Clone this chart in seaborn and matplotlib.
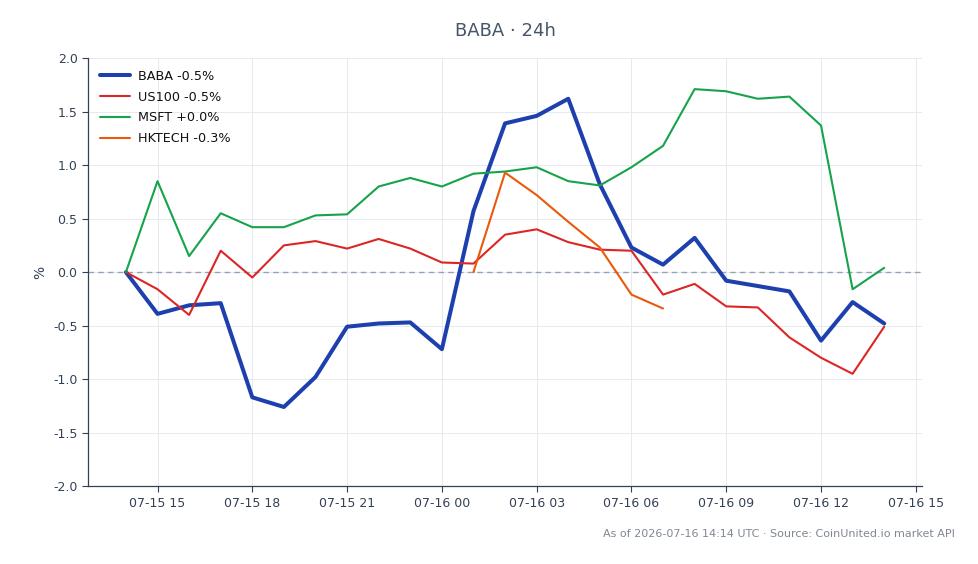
import pandas as pd
import seaborn as sns
import matplotlib.pyplot as plt
import matplotlib.dates as mdates

# hourly % change, 07-15 14:00 -> 07-16 14:00
times = pd.date_range("2026-07-15 14:00", "2026-07-16 14:00", freq="h")

baba = [0.00, -0.39, -0.31, -0.29, -1.17, -1.26, -0.98, -0.51, -0.48, -0.47, -0.72,
        0.57, 1.39, 1.46, 1.62, 0.82, 0.23, 0.07, 0.32, -0.08, -0.13, -0.18, -0.64,
        -0.28, -0.48]
us100 = [0.00, -0.16, -0.40, 0.20, -0.05, 0.25, 0.29, 0.22, 0.31, 0.22, 0.09,
         0.08, 0.35, 0.40, 0.28, 0.21, 0.20, -0.21, -0.11, -0.32, -0.33, -0.61, -0.80,
         -0.95, -0.51]
msft = [0.00, 0.85, 0.15, 0.55, 0.42, 0.42, 0.53, 0.54, 0.80, 0.88, 0.80,
        0.92, 0.94, 0.98, 0.85, 0.81, 0.98, 1.18, 1.71, 1.69, 1.62, 1.64, 1.37,
        -0.16, 0.04]
nan = float("nan")
hktech = [nan] * 11 + [0.00, 0.93, 0.72, 0.47, 0.23, -0.21, -0.34] + [nan] * 7

series = {
    "BABA -0.5%": baba,
    "US100 -0.5%": us100,
    "MSFT +0.0%": msft,
    "HKTECH -0.3%": hktech,
}
colors = {
    "BABA -0.5%": "#1e40af",
    "US100 -0.5%": "#dc2626",
    "MSFT +0.0%": "#16a34a",
    "HKTECH -0.3%": "#ea580c",
}
widths = {"BABA -0.5%": 2.9, "US100 -0.5%": 1.5, "MSFT +0.0%": 1.5, "HKTECH -0.3%": 1.5}

sns.set_theme(style="whitegrid")
plt.rcParams["font.family"] = ["DejaVu Sans"]

fig = plt.figure(figsize=(9.79, 5.64), dpi=100)
ax = fig.add_axes([0.0899, 0.138, 0.852, 0.759])

for name, vals in series.items():
    d = pd.DataFrame({"time": times, "pct": vals}).dropna()
    sns.lineplot(data=d, x="time", y="pct", ax=ax, color=colors[name],
                 linewidth=widths[name], label=name)

ax.axhline(0, color="#94a3b8", linestyle=(0, (4, 3)), linewidth=1, zorder=1)

ax.set_ylim(-2.0, 2.0)
ax.set_yticks([-2.0, -1.5, -1.0, -0.5, 0.0, 0.5, 1.0, 1.5, 2.0])
ax.yaxis.set_major_formatter(plt.FormatStrFormatter("%.1f"))
ax.xaxis.set_major_locator(mdates.HourLocator(byhour=range(0, 24, 3)))
ax.xaxis.set_major_formatter(mdates.DateFormatter("%m-%d %H"))
ax.margins(x=0.05)

ax.set_xlabel("")
ax.set_ylabel("%", color="#334155", fontsize=10)
ax.tick_params(axis="both", labelsize=9, colors="#334155", length=4, width=0.8,
               left=True, bottom=True)
ax.set_facecolor("white")
ax.grid(True, color="#e5e9f0", linewidth=0.7)
for s in ["top", "right"]:
    ax.spines[s].set_visible(False)
for s in ["left", "bottom"]:
    ax.spines[s].set_color("#334155")
    ax.spines[s].set_linewidth(0.9)

leg = ax.legend(loc="upper left", frameon=False, fontsize=9.2, handlelength=2.4,
                handletextpad=0.65, labelspacing=0.62)
for t in leg.get_texts():
    t.set_color("#111111")

fig.text(0.516, 0.945, "BABA · 24h", ha="center", va="center", fontsize=13, color="#475569")
fig.text(0.975, 0.054, "As of 2026-07-16 14:14 UTC · Source: CoinUnited.io market API",
         ha="right", va="center", fontsize=8, color="#808894")

fig.savefig("out.png", dpi=100)
